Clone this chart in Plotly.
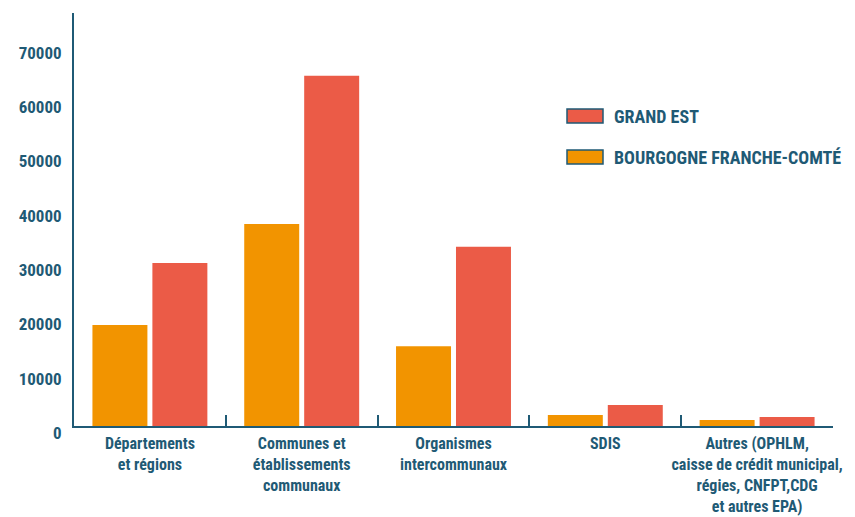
import plotly.graph_objects as go

categories = [
    "Départements<br>et régions",
    "Communes et<br>établissements<br>communaux",
    "Organismes<br>intercommunaux",
    "SDIS",
    "Autres (OPHLM,<br>caisse de crédit municipal,<br>régies, CNFPT,CDG<br>et autres EPA)",
]
bourgogne = [18600, 37200, 14700, 2030, 1100]
grand_est = [30000, 64500, 33000, 3870, 1660]
series_names = ["GRAND EST", "BOURGOGNE FRANCHE-COMTÉ"]
y_ticks = [0, 10000, 20000, 30000, 40000, 50000, 60000, 70000]

ORANGE = "#F29400"
RED = "#EB5B47"
BLUE = "#1F5A75"
FONT = "Roboto Condensed, Liberation Sans Narrow, DejaVu Sans Condensed, Roboto, sans-serif"

fig = go.Figure()
fig.add_trace(go.Bar(x=categories, y=bourgogne, name=series_names[1],
                     marker=dict(color=ORANGE, line=dict(width=0)), showlegend=False))
fig.add_trace(go.Bar(x=categories, y=grand_est, name=series_names[0],
                     marker=dict(color=RED, line=dict(width=0)), showlegend=False))

# manual legend (page coords -> paper fractions of plot area 74..833 x 13..426)
for i, (name, col) in enumerate([(series_names[0], RED), (series_names[1], ORANGE)]):
    yc = 116 + i * 41
    fig.add_shape(type="rect", xref="paper", yref="paper",
                  x0=(567 - 74) / 759, x1=(603 - 74) / 759,
                  y0=(426 - (yc + 7)) / 413, y1=(426 - (yc - 7)) / 413,
                  fillcolor=col, line=dict(color=BLUE, width=1.5))
    fig.add_annotation(xref="paper", yref="paper", x=(612 - 74) / 759,
                       y=(426 - yc) / 413, text=name, showarrow=False,
                       xanchor="left", yanchor="middle",
                       font=dict(family=FONT, size=18, color=BLUE, weight="bold"))

# page body has an 8px margin: figure is placed at (8, 8)
fig.update_layout(
    width=847, height=509,
    margin=dict(l=66, r=22, t=5, b=91, autoexpand=False),
    plot_bgcolor="white", paper_bgcolor="white",
    barmode="group", bargap=0.21, bargroupgap=0.083,
    font=dict(family=FONT, color=BLUE, weight="bold"),
)
fig.update_xaxes(
    showline=True, linecolor=BLUE, linewidth=2, automargin=False, tickangle=0,
    tickson="boundaries", ticks="inside", ticklen=11, tickwidth=2, tickcolor=BLUE,
    ticklabelstandoff=2,
    tickfont=dict(family=FONT, size=16, color=BLUE, weight="bold"),
    showgrid=False,
)
fig.update_yaxes(
    range=[0, 76070], tickvals=y_ticks, ticktext=[str(v) for v in y_ticks],
    showline=True, linecolor=BLUE, linewidth=2, showgrid=False, zeroline=False,
    automargin=False,
    ticks="", ticklabelstandoff=7, ticklabelshift=7,
    tickfont=dict(family=FONT, size=17, color=BLUE, weight="bold"),
)
fig.write_html("out.html")
